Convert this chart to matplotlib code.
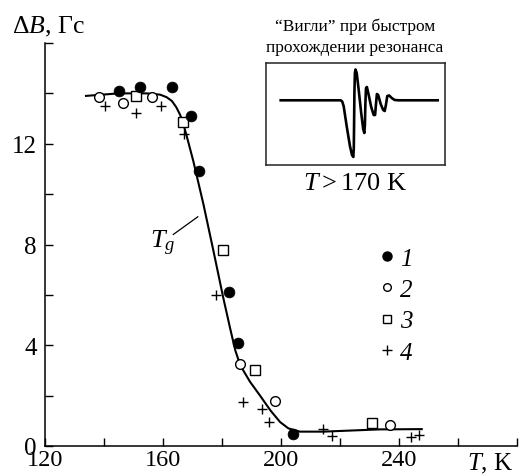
import matplotlib
matplotlib.use("Agg")
import matplotlib.pyplot as plt
from matplotlib.lines import Line2D

plt.rcParams['font.family'] = ['Liberation Serif', 'DejaVu Serif']
plt.rcParams['mathtext.fontset'] = 'custom'
plt.rcParams['mathtext.rm'] = 'Liberation Serif'
plt.rcParams['mathtext.it'] = 'Liberation Serif:italic'

# ---- data ----
t1 = [145.1, 152.2, 163.1, 169.5, 172.2, 182.4, 185.5, 204.2]
b1 = [14.1, 14.24, 14.24, 13.1, 10.9, 6.1, 4.1, 0.47]
t2 = [138.2, 146.3, 156.2, 186.2, 198.1, 237.0]
b2 = [13.87, 13.6, 13.84, 3.25, 1.8, 0.83]
t3 = [150.8, 166.8, 180.2, 191.3, 230.8]
b3 = [13.9, 12.87, 7.8, 3.03, 0.9]
t4 = [140.4, 150.8, 159.4, 167.2, 178.0, 187.2, 193.4, 196.0, 214.1, 217.4, 244.0, 246.8]
b4 = [13.5, 13.24, 13.5, 12.4, 6.0, 1.73, 1.47, 0.96, 0.67, 0.4, 0.37, 0.43]

curve_t = [133.9, 145.0, 154.5, 159.0, 161.2, 163.0, 164.5, 165.8, 167.0, 168.5,
           170.3, 173.7, 177.0, 180.4, 182.7, 184.5, 186.2, 189.5, 192.9, 196.5,
           199.7, 202.5, 206.4, 214.3, 225.0, 233.6, 247.7]
curve_b = [13.9, 14.0, 14.0, 13.95, 13.85, 13.7, 13.45, 13.15, 12.75, 12.1,
           11.3, 9.6, 7.8, 5.9, 4.7, 3.8, 3.2, 2.55, 2.0, 1.4,
           0.95, 0.7, 0.57, 0.57, 0.62, 0.66, 0.67]

# inset "wiggle" trace (schematic, box pixel units, y downward)
wig_x = [15, 75, 76.5, 78, 81, 84.3, 86.3, 87.6, 88.1, 88.4, 88.7, 89.2, 89.8,
         91, 93, 95.5, 97.5, 98.6, 99.2, 99.7, 100.3, 101.2, 103, 105.5,
         108, 109.4, 110.2, 111.2, 112.5, 115, 117.5, 119.0, 120.2, 121.6, 123.5,
         126, 129, 133, 172]
wig_y = [37.3, 37.3, 38.5, 43.3, 63.3, 83.3, 92.0, 94.0, 85, 60, 30, 10, 6.5,
         10, 27, 50, 66, 70, 62, 40, 25, 24, 32, 44,
         52, 52, 42, 31, 32, 41, 47, 48, 42, 33, 32.5,
         35, 37, 37.3, 37.3]

xticks = [120, 140, 160, 180, 200, 220, 240, 260, 280]
xticklabels = ['120', '', '160', '', '200', '', '240', '', '']
yticks = [0, 2, 4, 6, 8, 10, 12, 14, 16]
yticklabels = ['0', '', '4', '', '8', '', '12', '', '']
legend_labels = ['1', '2', '3', '4']

W, H = 522, 477
fig = plt.figure(figsize=(W / 100, H / 100), dpi=100)
ax = fig.add_axes([45 / W, 1 - 447 / H, (517 - 45) / W, (447 - 44) / H])

ax.plot(curve_t, curve_b, color='black', lw=1.5, zorder=2)
ax.plot(t4, b4, ls='none', marker='+', ms=7, mew=1.0, color='black', zorder=3)
ax.plot(t3, b3, ls='none', marker='s', ms=6.5, mew=1.0, mfc='white', mec='black', zorder=3)
ax.plot(t2, b2, ls='none', marker='o', ms=7, mew=1.0, mfc='white', mec='black', zorder=3)
ax.plot(t1, b1, ls='none', marker='o', ms=7.8, mew=0.5, mfc='black', mec='black', zorder=4)

ax.set_xlim(120, 280)
ax.set_ylim(0, 16)
ax.set_xticks(xticks)
ax.set_xticklabels(xticklabels)
ax.set_yticks(yticks)
ax.set_yticklabels(yticklabels)
for s in ['top', 'right']:
    ax.spines[s].set_visible(False)
for s in ['left', 'bottom']:
    ax.spines[s].set_linewidth(1.1)
ax.tick_params(direction='in', length=6, width=1.0)
ax.tick_params(axis='x', pad=2.5, labelsize=17.5)
ax.tick_params(axis='y', pad=6, labelsize=18)

# T_g pointer
ax.plot([163.5, 171.8], [8.4, 9.1], color='black', lw=0.9)
ax.text(155.6, 7.87, r'$T_g$', fontsize=19, ha='left', va='baseline')

# legend
handles = [
    Line2D([], [], ls='none', marker='o', ms=6.5, mfc='black', mec='black'),
    Line2D([], [], ls='none', marker='o', ms=5.5, mfc='white', mec='black', mew=1.0),
    Line2D([], [], ls='none', marker='s', ms=5.5, mfc='white', mec='black', mew=1.0),
    Line2D([], [], ls='none', marker='+', ms=6.5, color='black', mew=1.0),
]
leg = ax.legend(handles, legend_labels, loc='upper left',
                bbox_to_anchor=(334 / 472, (447 - 248) / 403),
                frameon=False, prop={'size': 18, 'style': 'italic'},
                handlelength=0.6, handletextpad=0.25,
                labelspacing=0.36, borderpad=0, borderaxespad=0)

# axis titles
fig.text(12 / W, 1 - 27 / H, 'Δ$B$, Гс', fontsize=18.5, ha='left', va='center')
fig.text(467 / W, 1 - 464 / H, '$T$, K', fontsize=18, ha='left', va='center')

# inset
axi = fig.add_axes([265.7 / W, 1 - 166 / H, 179.3 / W, 102 / H])
axi.plot(wig_x, wig_y, color='black', lw=1.9, solid_joinstyle='round')
axi.set_xlim(0, 179.3)
axi.set_ylim(102, 0)
axi.set_xticks([])
axi.set_yticks([])
for s in axi.spines.values():
    s.set_linewidth(1.1)
    s.set_color('#222222')

fig.text(355 / W, 1 - 27 / H, '“Вигли” при быстром', fontsize=12.5, ha='center', va='center')
fig.text(355 / W, 1 - 48 / H, 'прохождении резонанса', fontsize=12.5, ha='center', va='center')
fig.text(355 / W, 1 - 184 / H, '$T > 170$ K', fontsize=19, ha='center', va='center')

fig.savefig('out.png', dpi=100)
